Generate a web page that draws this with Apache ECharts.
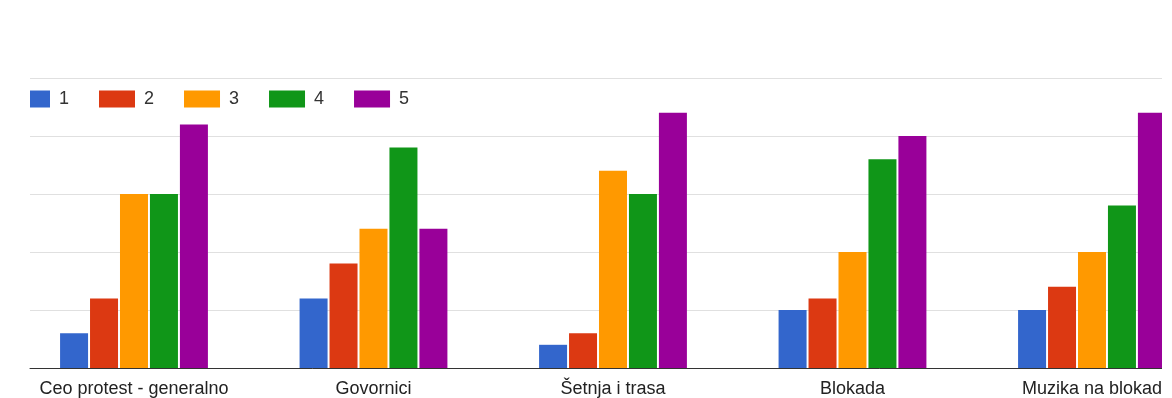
<!DOCTYPE html>
<html>
<head>
<meta charset="utf-8">
<script src="https://cdn.jsdelivr.net/npm/echarts@6/dist/echarts.min.js"></script>
<style>
  html, body { margin: 0; padding: 0; background: #fff; }
  #main { width: 1172px; height: 398px; }
</style>
</head>
<body>
<div id="main"></div>
<script>
// podaci
var categories = ['Ceo protest - generalno', 'Govornici', 'Šetnja i trasa', 'Blokada', 'Muzika na blokad'];
var ocene = ['1', '2', '3', '4', '5'];
var ocena1 = [3, 6, 2, 5, 5];
var ocena2 = [6, 9, 3, 6, 7];
var ocena3 = [15, 12, 17, 10, 10];
var ocena4 = [15, 19, 15, 18, 14];
var ocena5 = [21, 12, 22, 20, 22];
var boje = ['#3366cc', '#dc3912', '#ff9900', '#109618', '#990099'];

var vrednosti = [ocena1, ocena2, ocena3, ocena4, ocena5];

var myChart = echarts.init(document.getElementById('main'));

var serije = ocene.map(function (ime, i) {
	return {
		name: ime,
		type: 'bar',
		barWidth: 28,
		barGap: '7%',
		itemStyle: { color: boje[i] },
		data: vrednosti[i].map(function (v, k) { return [k, v]; })
	};
});

var legendText = { color: '#333', fontSize: 18, fontFamily: 'Arial, "Liberation Sans", sans-serif', padding: [0, 0, 0, 4] };

option = {
	animation: false,
	color: boje,
	legend: [
		{
			data: ['1'],
			left: 30,
			top: 90,
			padding: 0,
			itemWidth: 20,
			itemHeight: 17,
			icon: 'rect',
			textStyle: legendText
		},
		{
			data: ['2', '3', '4', '5'],
			left: 99,
			top: 90,
			padding: 0,
			itemWidth: 36,
			itemHeight: 17,
			itemGap: 30,
			icon: 'rect',
			textStyle: legendText
		}
	],
	grid: { left: 30, right: 10, top: 78, bottom: 30, containLabel: false },
	xAxis: {
		type: 'value',
		min: -0.4342,
		max: 4.2923,
		splitLine: { show: false },
		axisTick: { show: false },
		axisLine: { show: true, lineStyle: { color: '#333', width: 1 } },
		axisLabel: {
			customValues: [0, 1, 2, 3, 4],
			formatter: function (v) { return categories[Math.round(v)]; },
			color: '#222',
			fontSize: 18,
			fontFamily: 'Arial, "Liberation Sans", sans-serif',
			margin: 12
		}
	},
	yAxis: {
		type: 'value',
		min: 0,
		max: 25,
		interval: 5,
		axisLine: { show: false },
		axisTick: { show: false },
		axisLabel: { show: false },
		splitLine: { lineStyle: { color: '#e0e0e0', width: 1 } }
	},
	// desna ivica je odsečena kao na slici
	graphic: [{
		type: 'rect',
		right: 0,
		top: 0,
		z: 100,
		shape: { width: 10, height: 369 },
		style: { fill: '#fff' }
	}],
	series: serije
};

myChart.setOption(option);
window.onresize = myChart.resize;
</script>
</body>
</html>
